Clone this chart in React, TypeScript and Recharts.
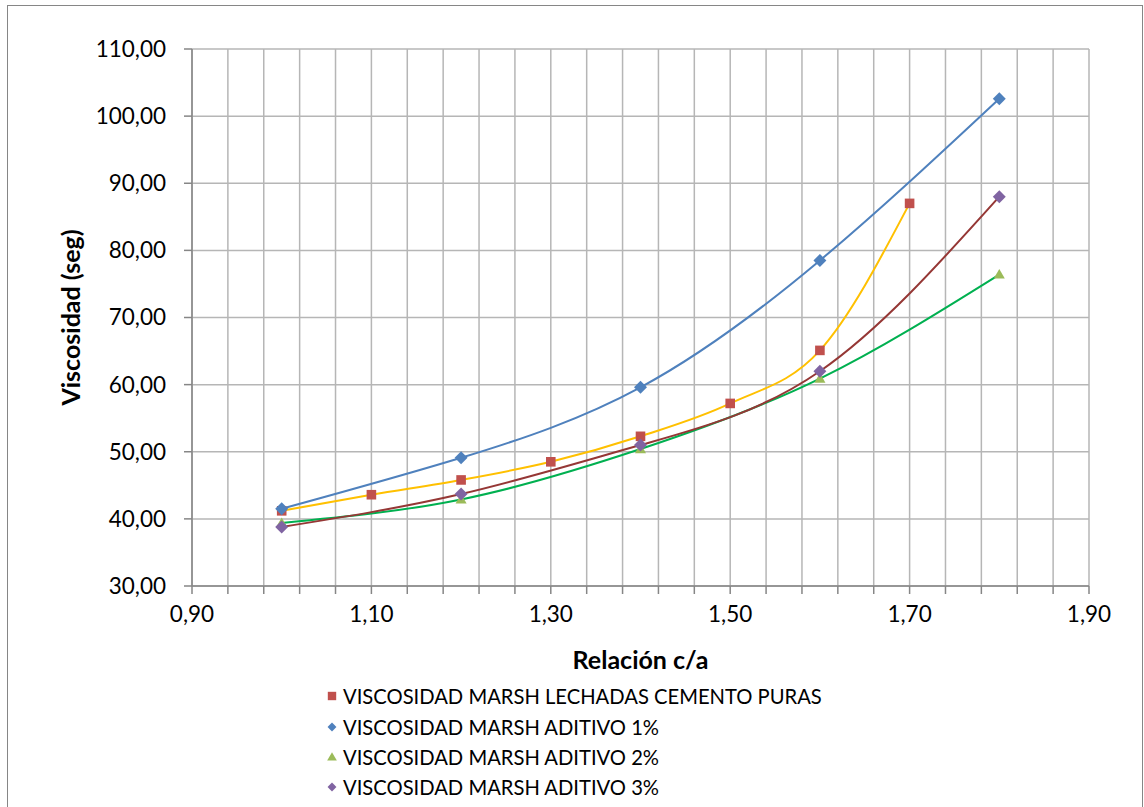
import { ComposedChart, Line, Scatter, XAxis, YAxis, CartesianGrid } from "recharts";

// relación c/a
const ratioPuras = [1.0, 1.1, 1.2, 1.3, 1.4, 1.5, 1.6, 1.7];
const ratioAditivo = [1.0, 1.2, 1.4, 1.6, 1.8];

// viscosidad marsh (seg)
const viscPuras = [41.2, 43.6, 45.8, 48.5, 52.3, 57.2, 65.1, 87.0];
const viscAditivo1 = [41.5, 49.1, 59.6, 78.5, 102.6];
const viscAditivo2 = [39.4, 42.9, 50.4, 60.9, 76.4];
const viscAditivo3 = [38.8, 43.7, 51.0, 62.0, 88.0];

const xTicks = [
  0.9, 0.94, 0.98, 1.02, 1.06, 1.1, 1.14, 1.18, 1.22, 1.26, 1.3, 1.34, 1.38,
  1.42, 1.46, 1.5, 1.54, 1.58, 1.62, 1.66, 1.7, 1.74, 1.78, 1.82, 1.86, 1.9,
];
const xLabels = ["0,90", "1,10", "1,30", "1,50", "1,70", "1,90"];
const yTicks = [30, 40, 50, 60, 70, 80, 90, 100, 110];

const FONT = "Lato, 'Liberation Sans', sans-serif";
const GRID = "#b6b6b6";
const AXIS = "#868686";

const toPoints = (xs: number[], ys: number[]) => xs.map((x, i) => ({ x, y: ys[i] }));

const series = [
  {
    name: "VISCOSIDAD MARSH LECHADAS CEMENTO PURAS",
    data: toPoints(ratioPuras, viscPuras),
    marker: "#C0504D",
    trend: "#FFC000",
    shape: "square",
    curve: "monotone",
  },
  {
    name: "VISCOSIDAD MARSH ADITIVO 1%",
    data: toPoints(ratioAditivo, viscAditivo1),
    marker: "#4F81BD",
    trend: "#4F81BD",
    shape: "diamond",
    curve: "natural",
  },
  {
    name: "VISCOSIDAD MARSH ADITIVO 2%",
    data: toPoints(ratioAditivo, viscAditivo2),
    marker: "#9BBB59",
    trend: "#00B050",
    shape: "triangle",
    curve: "natural",
  },
  {
    name: "VISCOSIDAD MARSH ADITIVO 3%",
    data: toPoints(ratioAditivo, viscAditivo3),
    marker: "#8064A2",
    trend: "#953735",
    shape: "diamond",
    curve: "natural",
  },
];

const markerPath = (shape: string, cx: number, cy: number, r: number) => {
  if (shape === "square") return `M${cx - r},${cy - r}h${2 * r}v${2 * r}h${-2 * r}Z`;
  if (shape === "triangle") return `M${cx},${cy - r * 1.15}L${cx + r * 1.15},${cy + r * 0.85}L${cx - r * 1.15},${cy + r * 0.85}Z`;
  return `M${cx},${cy - r * 1.35}L${cx + r * 1.35},${cy}L${cx},${cy + r * 1.35}L${cx - r * 1.35},${cy}Z`;
};

const makeShape = (shape: string, color: string) => (props: any) => {
  const { cx, cy } = props;
  if (cx == null || cy == null) return <g />;
  return <path d={markerPath(shape, cx, cy, 4.8)} fill={color} />;
};

const formatY = (v: number) => v.toFixed(2).replace(".", ",");
const formatX = (v: number) => {
  const k = Math.round((v - 0.9) / 0.04);
  return k % 5 === 0 ? xLabels[k / 5] : "";
};

const App = () => {
  return (
    <div
      style={{
        position: "absolute",
        left: 0,
        top: 0,
        width: 1144,
        height: 807,
        overflow: "hidden",
        background: "#fff",
        fontFamily: FONT,
      }}
    >
      <div
        style={{
          position: "absolute",
          left: 7,
          top: 5,
          width: 1134,
          height: 900,
          border: `1.5px solid ${AXIS}`,
        }}
      />
      <ComposedChart
        width={1144}
        height={807}
        margin={{ top: 49, right: 55, bottom: 0, left: 0 }}
        style={{ position: "absolute", left: 0, top: 0 }}
      >
        <CartesianGrid stroke={GRID} strokeWidth={1.5} />
        <XAxis
          type="number"
          dataKey="x"
          domain={[0.9, 1.9]}
          ticks={xTicks}
          interval={0}
          tickFormatter={formatX}
          height={221}
          stroke={AXIS}
          strokeWidth={1.5}
          tickSize={8}
          tickMargin={12}
          tick={{ fill: "#000", fontSize: 22.5, fontFamily: FONT }}
          label={{
            content: ({ viewBox }: any) => (
              <text
                x={viewBox.x + viewBox.width / 2}
                y={viewBox.y + 83}
                textAnchor="middle"
                fontFamily={FONT}
                fontWeight={700}
                fontSize={25}
                fill="#000"
              >
                Relación c/a
              </text>
            ),
          }}
        />
        <YAxis
          type="number"
          domain={[30, 110]}
          ticks={yTicks}
          interval={0}
          tickFormatter={formatY}
          width={192}
          stroke={AXIS}
          strokeWidth={1.5}
          tickSize={8}
          tickMargin={18}
          tick={{ fill: "#000", fontSize: 22.5, fontFamily: FONT }}
          label={{
            content: ({ viewBox }: any) => {
              const cx = 70;
              const cy = viewBox.y + viewBox.height / 2;
              return (
                <text
                  x={cx}
                  y={cy}
                  transform={`rotate(-90 ${cx} ${cy})`}
                  textAnchor="middle"
                  dominantBaseline="central"
                  fontFamily={FONT}
                  fontWeight={700}
                  fontSize={25}
                  fill="#000"
                >
                  Viscosidad (seg)
                </text>
              );
            },
          }}
        />
        {series.map((s) => (
          <Line
            key={`trend-${s.name}`}
            data={s.data}
            dataKey="y"
            type={s.curve as any}
            stroke={s.trend}
            strokeWidth={2}
            dot={false}
            activeDot={false}
            isAnimationActive={false}
          />
        ))}
        {series.map((s) => (
          <Scatter
            key={`pts-${s.name}`}
            name={s.name}
            data={s.data}
            dataKey="y"
            fill={s.marker}
            shape={makeShape(s.shape, s.marker)}
            isAnimationActive={false}
          />
        ))}
      </ComposedChart>
      <div style={{ position: "absolute", left: 325, top: 681 }}>
        {series.map((s) => (
          <div
            key={`leg-${s.name}`}
            style={{ display: "flex", alignItems: "center", height: 30.4 }}
          >
            <svg width={14} height={14} style={{ marginRight: 4 }}>
              <path d={markerPath(s.shape, 7, 7, s.shape === "diamond" ? 3.3 : 4.2)} fill={s.marker} />
            </svg>
            <span style={{ fontSize: 20.2, color: "#000", whiteSpace: "nowrap" }}>{s.name}</span>
          </div>
        ))}
      </div>
    </div>
  );
};

export default App;
